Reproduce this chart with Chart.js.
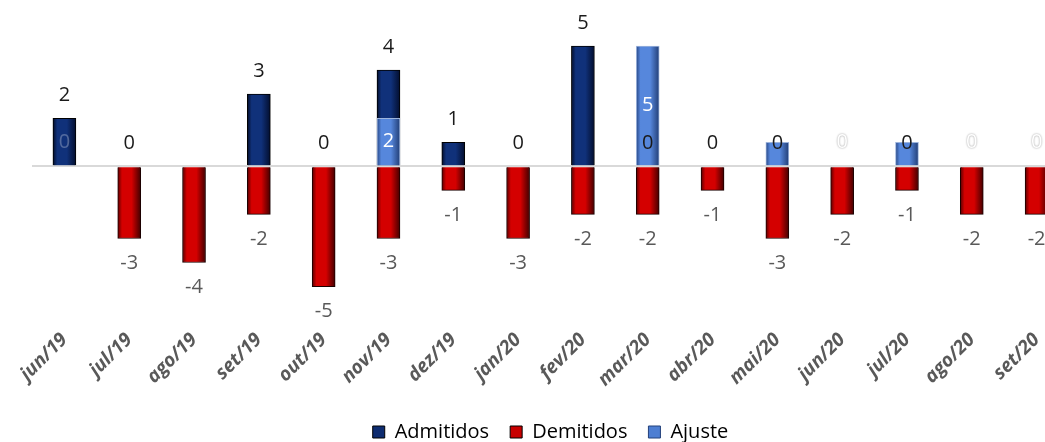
<!DOCTYPE html>
<html>
<head>
<meta charset="utf-8">
<script src="https://cdn.jsdelivr.net/npm/chart.js@4/dist/chart.umd.min.js"></script>
<style>
  html, body { margin:0; padding:0; background:#fff; overflow:hidden; }
  #wrap { width:1045px; height:442px; overflow:hidden; }
</style>
</head>
<body>
<div id="wrap"><canvas id="chart" width="1084" height="452"></canvas></div>
<script>
(function(){
  const months = ['jun/19','jul/19','ago/19','set/19','out/19','nov/19','dez/19','jan/20',
                  'fev/20','mar/20','abr/20','mai/20','jun/20','jul/20','ago/20','set/20'];
  const admitidos = [2, 0, null, 3, 0, 4, 1, 0, 5, 0, 0, 0, null, 0, null, null];
  const demitidos = [null, -3, -4, -2, -5, -3, -1, -3, -2, -2, -1, -3, -2, -1, -2, -2];
  const ajuste    = [0, null, null, null, null, 2, null, null, null, 5, null, 1, 0, 1, 0, 0];

  const navy = ['#01081f', '#10317a', '#020c2a'];
  const red  = ['#4a0000', '#d40000', '#3a0000'];
  const blue = ['#23407a', '#5687dc', '#1f3a70'];

  // horizontal bevel-ish gradient, one per bar
  function barFill(cols){
    return (ctx) => {
      const x = ctx.chart.scales.x;
      if (!x || ctx.type !== 'data') return cols[1];
      const cx = x.getPixelForValue(ctx.dataIndex);
      const g = ctx.chart.ctx.createLinearGradient(cx - 12, 0, cx + 12, 0);
      g.addColorStop(0, cols[0]);
      g.addColorStop(0.2, cols[1]);
      g.addColorStop(0.6, cols[1]);
      g.addColorStop(1, cols[2]);
      return g;
    };
  }

  const labelFont = '20px "Open Sans"';

  const valueLabels = {
    id: 'valueLabels',
    afterDatasetsDraw(chart){
      const c = chart.ctx;
      c.save();
      c.font = labelFont;
      c.textAlign = 'center';
      c.textBaseline = 'middle';

      // Ajuste labels (drawn first, under the others)
      const mA = chart.getDatasetMeta(2);
      mA.data.forEach((bar, j) => {
        const v = ajuste[j];
        if (v == null) return;
        if (v === 0) {
          c.save();
          if (admitidos[j] > 0) {
            c.fillStyle = 'rgba(255,255,255,0.28)';
          } else {
            c.fillStyle = '#ffffff';
            c.shadowColor = 'rgba(0,0,0,0.45)';
            c.shadowBlur = 2;
          }
          c.fillText('0', bar.x, bar.base - 24);
          c.restore();
        } else if (v >= 2) {
          c.fillStyle = '#ffffff';
          c.fillText(String(v), bar.x, (bar.y + bar.base) / 2);
        }
      });

      // Demitidos labels, below the bar end
      const mD = chart.getDatasetMeta(1);
      c.fillStyle = '#595959';
      mD.data.forEach((bar, j) => {
        const v = demitidos[j];
        if (v == null) return;
        c.fillText(String(v), bar.x, bar.y + 25);
      });

      // Admitidos labels, above the bar end
      const mAd = chart.getDatasetMeta(0);
      c.fillStyle = '#1a1a1a';
      mAd.data.forEach((bar, j) => {
        const v = admitidos[j];
        if (v == null) return;
        c.fillText(String(v), bar.x, bar.y - 23);
      });
      c.restore();
    }
  };

  const legendItems = [
    { text: 'Admitidos', fillStyle: '#0e2c70', strokeStyle: '#000', lineWidth: 1, datasetIndex: 0 },
    { text: 'Demitidos', fillStyle: '#c80000', strokeStyle: '#000', lineWidth: 1, datasetIndex: 1 },
    { text: 'Ajuste',    fillStyle: '#4d7ed2', strokeStyle: '#23407a', lineWidth: 1, datasetIndex: 2 }
  ];

  new Chart(document.getElementById('chart'), {
    type: 'bar',
    data: {
      labels: months,
      datasets: [
        { label: 'Admitidos', data: admitidos, backgroundColor: barFill(navy), borderColor: '#000000', borderWidth: 1, order: 2 },
        { label: 'Demitidos', data: demitidos, backgroundColor: barFill(red), borderColor: '#1a0000', borderWidth: 1, order: 2 },
        { label: 'Ajuste', data: ajuste, backgroundColor: barFill(blue), borderColor: '#9db4dc', borderWidth: 1, order: 1 }
      ]
    },
    options: {
      responsive: false,
      animation: false,
      layout: { padding: { left: 32, right: 15, top: 22, bottom: 0 } },
      datasets: { bar: { grouped: false, barThickness: 23 } },
      plugins: {
        tooltip: { enabled: false },
        legend: {
          position: 'bottom',
          labels: {
            boxWidth: 12, boxHeight: 12, padding: 21,
            color: '#595959',
            font: { family: 'Open Sans', size: 20 },
            generateLabels: () => legendItems
          }
        }
      },
      scales: {
        x: {
          grid: { display: false },
          border: { display: false },
          ticks: {
            minRotation: 45, maxRotation: 45,
            color: '#595959',
            padding: 10,
            font: { family: 'Open Sans', size: 19, weight: 'bold', style: 'italic' }
          }
        },
        y: {
          min: -6, max: 6,
          ticks: { display: false, stepSize: 1 },
          border: { display: false },
          grid: {
            drawTicks: false,
            lineWidth: 2,
            color: (ctx) => ctx.tick && ctx.tick.value === 0 ? '#d9d9d9' : 'rgba(0,0,0,0)'
          }
        }
      }
    },
    plugins: [valueLabels]
  });
})();
</script>
</body>
</html>
